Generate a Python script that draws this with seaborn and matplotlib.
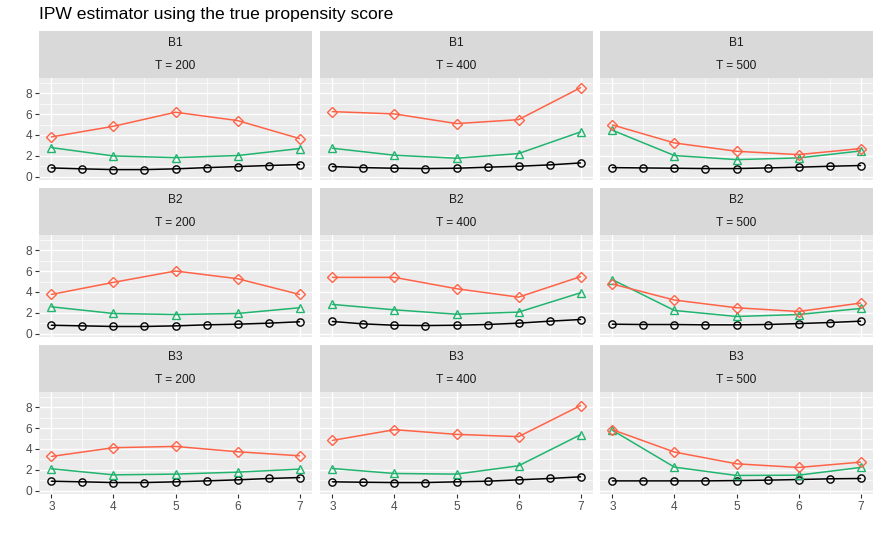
import matplotlib
matplotlib.use("Agg")
import matplotlib.pyplot as plt
from matplotlib.ticker import MultipleLocator
import pandas as pd
import seaborn as sns

# facet labels
b_levels = ["B1", "B2", "B3"]
t_levels = [200, 400, 500]

# x positions
x_fine = [3, 3.5, 4, 4.5, 5, 5.5, 6, 6.5, 7]
x_coarse = [3, 4, 5, 6, 7]

# circle series (black), one list per T for each B
circle_B1 = [
    [0.83, 0.74, 0.67, 0.67, 0.74, 0.86, 0.96, 1.06, 1.15],
    [0.96, 0.86, 0.80, 0.77, 0.80, 0.90, 0.99, 1.12, 1.31],
    [0.86, 0.83, 0.80, 0.77, 0.77, 0.83, 0.90, 0.99, 1.06],
]
circle_B2 = [
    [0.80, 0.74, 0.68, 0.68, 0.74, 0.84, 0.90, 1.00, 1.13],
    [1.16, 0.93, 0.80, 0.77, 0.80, 0.87, 1.00, 1.19, 1.35],
    [0.90, 0.87, 0.87, 0.84, 0.84, 0.87, 0.96, 1.06, 1.19],
]
circle_B3 = [
    [0.90, 0.84, 0.77, 0.77, 0.84, 0.93, 1.03, 1.16, 1.25],
    [0.84, 0.80, 0.77, 0.77, 0.84, 0.90, 1.03, 1.16, 1.32],
    [0.93, 0.93, 0.93, 0.93, 0.96, 1.00, 1.06, 1.13, 1.16],
]

# triangle series (green)
triangle_B1 = [
    [2.78, 1.98, 1.82, 2.02, 2.69],
    [2.72, 2.05, 1.76, 2.21, 4.29],
    [4.45, 2.02, 1.63, 1.79, 2.46],
]
triangle_B2 = [
    [2.57, 1.93, 1.83, 1.93, 2.48],
    [2.80, 2.28, 1.86, 2.06, 3.92],
    [5.18, 2.22, 1.64, 1.83, 2.41],
]
triangle_B3 = [
    [2.09, 1.51, 1.58, 1.77, 2.06],
    [2.12, 1.64, 1.58, 2.38, 5.37],
    [5.79, 2.25, 1.45, 1.48, 2.22],
]

# diamond series (red)
diamond_B1 = [
    [3.81, 4.83, 6.18, 5.38, 3.65],
    [6.24, 6.02, 5.09, 5.47, 8.54],
    [4.96, 3.23, 2.43, 2.11, 2.69],
]
diamond_B2 = [
    [3.76, 4.92, 6.01, 5.27, 3.76],
    [5.40, 5.40, 4.31, 3.50, 5.47],
    [4.76, 3.22, 2.48, 2.12, 2.93],
]
diamond_B3 = [
    [3.28, 4.12, 4.24, 3.73, 3.34],
    [4.82, 5.85, 5.40, 5.18, 8.17],
    [5.85, 3.70, 2.57, 2.22, 2.73],
]

circles = [circle_B1, circle_B2, circle_B3]
triangles = [triangle_B1, triangle_B2, triangle_B3]
diamonds = [diamond_B1, diamond_B2, diamond_B3]

# long table for seaborn
rows = []
for i, b in enumerate(b_levels):
    for j, t in enumerate(t_levels):
        for x, y in zip(x_fine, circles[i][j]):
            rows.append((b, t, "circle", x, y))
        for x, y in zip(x_coarse, triangles[i][j]):
            rows.append((b, t, "triangle", x, y))
        for x, y in zip(x_coarse, diamonds[i][j]):
            rows.append((b, t, "diamond", x, y))
df = pd.DataFrame(rows, columns=["B", "T", "series", "x", "y"])

# colour, marker, marker size
series_style = {
    "circle": ("black", "o", 5.2),
    "triangle": ("#21B46F", "^", 6.0),
    "diamond": ("#FF6347", "D", 4.6),
}

sns.set_theme(style="darkgrid")
plt.rcParams["font.family"] = ["Liberation Sans", "DejaVu Sans"]

W, H = 882, 539
fig = plt.figure(figsize=(W / 100, H / 100), dpi=100)

col_left = [39, 320, 600]
panel_w = 273
strip_top = [31, 188, 345]
strip_h = 47
panel_h = 102

def frac(x0, y0, w, h):
    return [x0 / W, 1 - (y0 + h) / H, w / W, h / H]

for i, b in enumerate(b_levels):
    for j, t in enumerate(t_levels):
        x0 = col_left[j]
        y_strip = strip_top[i]
        y_panel = y_strip + strip_h

        # strip
        sax = fig.add_axes(frac(x0, y_strip, panel_w, strip_h))
        sax.set_facecolor("#D9D9D9")
        sax.set_xticks([])
        sax.set_yticks([])
        for sp in sax.spines.values():
            sp.set_visible(False)
        sax.text(0.5, 0.75, b, ha="center", va="center", fontsize=8.6,
                 color="#1A1A1A", transform=sax.transAxes)
        sax.text(0.5, 0.25, f"T = {t}", ha="center", va="center", fontsize=8.6,
                 color="#1A1A1A", transform=sax.transAxes)

        # panel
        ax = fig.add_axes(frac(x0, y_panel, panel_w, panel_h))
        ax.set_facecolor("#EBEBEB")
        sub = df[(df["B"] == b) & (df["T"] == t)]
        for name, (color, marker, ms) in series_style.items():
            d = sub[sub["series"] == name]
            sns.lineplot(data=d, x="x", y="y", ax=ax, color=color, marker=marker,
                         markersize=ms, markerfacecolor="none", markeredgecolor=color,
                         markeredgewidth=1.0, linewidth=1.1, legend=False)

        ax.set_xlim(2.8, 7.2)
        ax.set_ylim(-0.33, 9.47)
        ax.xaxis.set_major_locator(MultipleLocator(1))
        ax.xaxis.set_minor_locator(MultipleLocator(0.5))
        ax.yaxis.set_major_locator(MultipleLocator(2))
        ax.yaxis.set_minor_locator(MultipleLocator(1))
        ax.grid(which="major", color="white", linewidth=1.0)
        ax.grid(which="minor", color="white", linewidth=0.5)
        ax.set_axisbelow(True)
        for sp in ax.spines.values():
            sp.set_visible(False)
        ax.set_xlabel("")
        ax.set_ylabel("")
        ax.tick_params(which="minor", length=0)
        ax.tick_params(which="major", length=3, width=0.8, color="#333333",
                       labelsize=8.6, labelcolor="#4D4D4D", pad=2)
        if j == 0:
            ax.tick_params(axis="y", left=True, labelleft=True)
        else:
            ax.tick_params(axis="y", left=False, labelleft=False)
        if i == 2:
            ax.tick_params(axis="x", bottom=True, labelbottom=True)
        else:
            ax.tick_params(axis="x", bottom=False, labelbottom=False)

fig.text(39 / W, 1 - 15 / H, "IPW estimator using the true propensity score",
         ha="left", va="center", fontsize=12.6, color="black")

fig.savefig("out.png", dpi=100)
